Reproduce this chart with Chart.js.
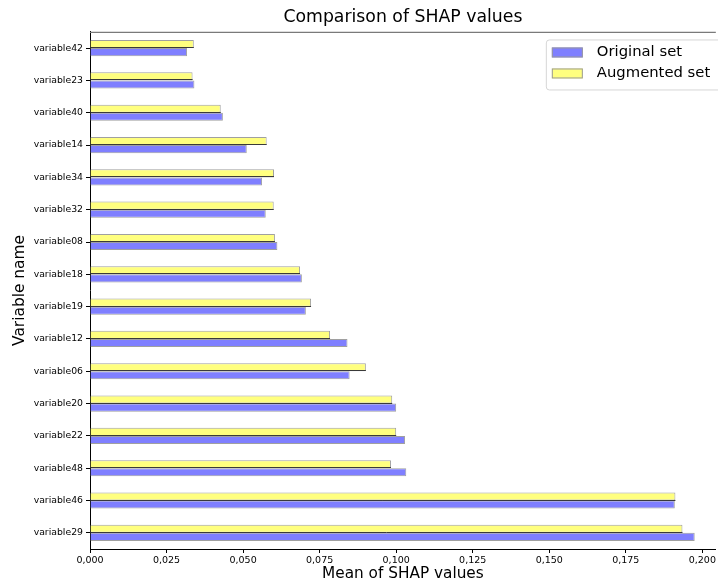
<!DOCTYPE html>
<html>
<head>
<meta charset="utf-8">
<title>Comparison of SHAP values</title>
<script src="https://cdn.jsdelivr.net/npm/chart.js@4/dist/chart.umd.min.js"></script>
<style>
  html, body { margin: 0; padding: 0; background: #ffffff; overflow: hidden; }
  #wrap { width: 718px; height: 583px; }
</style>
</head>
<body>
<div id="wrap"><canvas id="chart" width="718" height="583"></canvas></div>
<script>
// Variables, listed top to bottom
const variables = [
  'variable42', 'variable23', 'variable40', 'variable14', 'variable34',
  'variable32', 'variable08', 'variable18', 'variable19', 'variable12',
  'variable06', 'variable20', 'variable22', 'variable48', 'variable46', 'variable29'
];

// Mean |SHAP| per variable, model trained on the original data
const originalSet = [
  0.0317, 0.0341, 0.0434, 0.0512, 0.0562,
  0.0574, 0.0612, 0.0692, 0.0705, 0.0841,
  0.0848, 0.1000, 0.1029, 0.1033, 0.1910, 0.1975
];

// Mean |SHAP| per variable, model trained on the augmented data
const augmentedSet = [
  0.0339, 0.0335, 0.0427, 0.0577, 0.0601,
  0.0600, 0.0604, 0.0686, 0.0722, 0.0784,
  0.0901, 0.0987, 0.1000, 0.0983, 0.1912, 0.1935
];

const xTicks = [0, 0.025, 0.05, 0.075, 0.1, 0.125, 0.15, 0.175, 0.2];

const FONT = 'DejaVu Sans';

// Thin dark edge under the augmented bars and grey top spine
const decorations = {
  id: 'decorations',
  afterDatasetsDraw(chart) {
    const ctx = chart.ctx;
    const meta = chart.getDatasetMeta(0);
    ctx.save();
    ctx.strokeStyle = '#3a3a3a';
    ctx.lineWidth = 1;
    meta.data.forEach(bar => {
      const p = bar.getProps(['x', 'y', 'base', 'height'], true);
      const yb = Math.round(p.y + p.height / 2) - 0.5;
      ctx.beginPath();
      ctx.moveTo(p.base, yb);
      ctx.lineTo(p.x, yb);
      ctx.stroke();
    });
    const a = chart.chartArea;
    ctx.strokeStyle = '#7a7a7a';
    ctx.lineWidth = 1.2;
    ctx.beginPath();
    ctx.moveTo(a.left, a.top + 0.5);
    ctx.lineTo(a.right, a.top + 0.5);
    ctx.stroke();
    ctx.restore();
  }
};

// Legend box in the upper right corner of the plot area
const innerLegend = {
  id: 'innerLegend',
  afterDraw(chart) {
    const ctx = chart.ctx;
    const a = chart.chartArea;
    const order = [1, 0];
    const boxLeft = a.right - 170;
    const boxTop = a.top + 7.5;
    const boxW = 180, boxH = 50;
    ctx.save();
    ctx.fillStyle = 'rgba(255,255,255,0.85)';
    ctx.strokeStyle = '#d6d6d6';
    ctx.lineWidth = 1;
    ctx.beginPath();
    ctx.roundRect(boxLeft + 0.5, boxTop + 0.5, boxW, boxH, 3);
    ctx.fill();
    ctx.stroke();
    ctx.font = '14.8px "' + FONT + '"';
    ctx.textBaseline = 'middle';
    order.forEach((idx, row) => {
      const ds = chart.data.datasets[idx];
      const cy = boxTop + 13 + row * 21;
      ctx.fillStyle = ds.backgroundColor;
      ctx.fillRect(boxLeft + 6, cy - 5, 31, 10);
      ctx.strokeStyle = '#9a9a9a';
      ctx.strokeRect(boxLeft + 6.5, cy - 4.5, 30, 9);
      ctx.fillStyle = '#000';
      ctx.fillText(ds.label, boxLeft + 51, cy);
    });
    ctx.restore();
  }
};

new Chart(document.getElementById('chart'), {
  type: 'bar',
  data: {
    labels: variables,
    datasets: [
      {
        label: 'Augmented set',
        data: augmentedSet,
        backgroundColor: '#ffff7f',
        borderColor: '#a0a0a0',
        borderWidth: 1,
        categoryPercentage: 0.5,
        barPercentage: 1.0
      },
      {
        label: 'Original set',
        data: originalSet,
        backgroundColor: '#7f7fff',
        borderColor: '#a0a0a0',
        borderWidth: 1,
        categoryPercentage: 0.5,
        barPercentage: 1.0
      }
    ]
  },
  options: {
    indexAxis: 'y',
    responsive: false,
    animation: false,
    devicePixelRatio: 1,
    layout: { padding: 0 },
    plugins: {
      legend: { display: false },
      tooltip: { enabled: false },
      title: {
        display: true,
        text: 'Comparison of SHAP values',
        fullSize: false,
        align: 'center',
        color: '#000',
        font: { family: FONT, size: 17.3, weight: 'normal' },
        padding: { top: 7.5, bottom: 3.7 }
      }
    },
    scales: {
      x: {
        type: 'linear',
        min: 0,
        max: 0.2044,
        afterBuildTicks: axis => { axis.ticks = xTicks.map(v => ({ value: v })); },
        afterFit: axis => { axis.height = 34; },
        border: { display: true, color: '#000', width: 1 },
        grid: { display: true, drawOnChartArea: false, drawTicks: true, tickLength: 4, color: '#000' },
        ticks: {
          color: '#000',
          padding: 2,
          maxRotation: 0,
          autoSkip: false,
          font: { family: FONT, size: 9.5 },
          callback: v => v.toFixed(3).replace('.', ',')
        },
        title: {
          display: true,
          text: 'Mean of SHAP values',
          color: '#000',
          font: { family: FONT, size: 15.3 },
          padding: { top: 0, bottom: 0 }
        }
      },
      y: {
        offset: true,
        afterFit: axis => { axis.width = 90; },
        border: { display: true, color: '#000', width: 1 },
        grid: { display: true, offset: false, drawOnChartArea: false, drawTicks: true, tickLength: 4, color: '#000' },
        ticks: {
          color: '#000',
          padding: 3,
          autoSkip: false,
          font: { family: FONT, size: 9.3 }
        },
        title: {
          display: true,
          text: 'Variable name',
          color: '#000',
          font: { family: FONT, size: 15.4 },
          padding: { top: 10.5, bottom: 0 }
        }
      }
    }
  },
  plugins: [decorations, innerLegend]
});
</script>
</body>
</html>
